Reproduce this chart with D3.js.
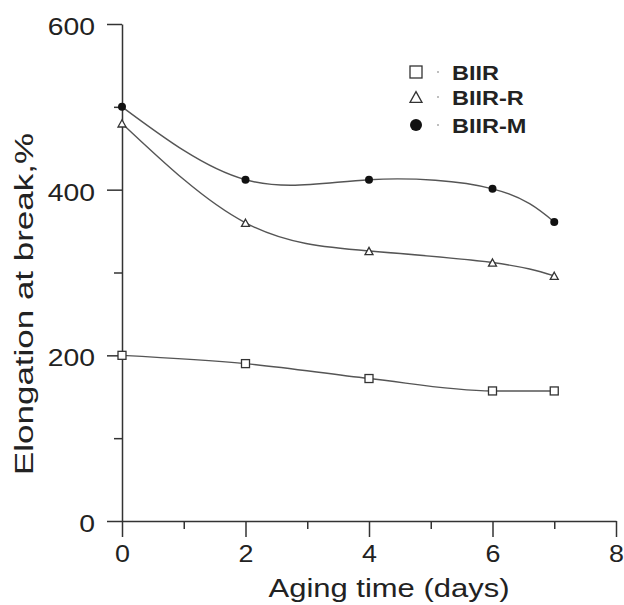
<!DOCTYPE html>
<html>
<head>
<meta charset="utf-8">
<script src="https://cdn.jsdelivr.net/npm/d3@7"></script>
<style>
  body { margin: 0; background: #fff; }
  text { font-family: "Liberation Sans", Arial, sans-serif; fill: #222; }
  .domain, .tick line { stroke: #333; stroke-width: 1.5; }
</style>
</head>
<body>
<div id="chart"></div>
<script>
// values
var days = [0, 2, 4, 6, 7];
var biir  = [200, 190, 172, 157, 157];
var biirR = [480, 360, 326, 312, 296];
var biirM = [500, 412, 412, 401, 361];
var seriesNames = ["BIIR", "BIIR-R", "BIIR-M"];
var xTicks = [0, 2, 4, 6, 8], xMinor = [1, 3, 5, 7];
var yTicks = [0, 200, 400, 600], yMinor = [100, 300, 500];

var width = 624, height = 605;
var svg = d3.select("#chart").append("svg").attr("width", width).attr("height", height);

var x = d3.scaleLinear().domain([0, 8]).range([122, 616]);
var y = d3.scaleLinear().domain([0, 600]).range([521, 24]);

// y axis
var yAxis = svg.append("g").attr("transform", "translate(" + x(0) + ",0)")
  .call(d3.axisLeft(y).tickValues(yTicks).tickSize(15).tickSizeOuter(0).tickFormat(d3.format("d")));
yAxis.selectAll("text").attr("x", 0).attr("dy", "0.44em")
  .attr("transform", "translate(-27,0) scale(1.18,1)")
  .style("font-size", "24px");
svg.append("g").attr("transform", "translate(" + x(0) + ",0)")
  .call(d3.axisLeft(y).tickValues(yMinor).tickSize(8).tickFormat(""))
  .select(".domain").remove();

// x axis
var xAxis = svg.append("g").attr("transform", "translate(0," + y(0) + ")")
  .call(d3.axisBottom(x).tickValues(xTicks).tickSize(16).tickSizeOuter(0));
xAxis.selectAll("text").attr("y", 0).attr("dy", 0)
  .attr("transform", "translate(0,41) scale(1.12,1)")
  .style("font-size", "24px");
svg.append("g").attr("transform", "translate(0," + y(0) + ")")
  .call(d3.axisBottom(x).tickValues(xMinor).tickSize(8).tickFormat(""))
  .select(".domain").remove();

// axis titles
svg.append("text").attr("x", 389).attr("y", 597).attr("text-anchor", "middle")
  .style("font-size", "25px").attr("textLength", 241).attr("lengthAdjust", "spacingAndGlyphs")
  .text("Aging time (days)");
svg.append("text").attr("transform", "translate(33,304) rotate(-90)").attr("text-anchor", "middle")
  .style("font-size", "25px").attr("textLength", 342).attr("lengthAdjust", "spacingAndGlyphs")
  .text("Elongation at break,%");

// curves
var series = [biir, biirR, biirM];
var curves = [d3.curveMonotoneX, d3.curveNatural, d3.curveNatural];

series.forEach(function(vals, i) {
  var pts = days.map(function(d, j) { return [d, vals[j]]; });
  var line = d3.line().x(function(d) { return x(d[0]); }).y(function(d) { return y(d[1]); })
    .curve(curves[i]);
  svg.append("path").datum(pts).attr("d", line)
    .attr("fill", "none").attr("stroke", "#555").attr("stroke-width", 1.4);
  pts.forEach(function(p) { marker(svg, i, x(p[0]), y(p[1]), 8); });
});

function marker(g, i, cx, cy, s) {
  if (i === 0) {
    g.append("rect").attr("x", cx - s / 2).attr("y", cy - s / 2).attr("width", s).attr("height", s)
      .attr("fill", "#fff").attr("stroke", "#333").attr("stroke-width", 1.3);
  } else if (i === 1) {
    var h = s * 0.9;
    g.append("path").attr("d", "M" + cx + "," + (cy - h / 2) + "L" + (cx + s / 2) + "," + (cy + h / 2) +
      "L" + (cx - s / 2) + "," + (cy + h / 2) + "Z")
      .attr("fill", "#fff").attr("stroke", "#333").attr("stroke-width", 1.3);
  } else {
    g.append("circle").attr("cx", cx).attr("cy", cy).attr("r", s / 2).attr("fill", "#111");
  }
}

// legend
var legY = [72, 97, 125];
seriesNames.forEach(function(name, i) {
  marker(svg, i, 416, legY[i], 12);
  svg.append("circle").attr("cx", 438).attr("cy", legY[i]).attr("r", 1).attr("fill", "#aaa");
  svg.append("text").attr("transform", "translate(452," + (legY[i] + 8) + ") scale(1.12,1)")
    .style("font-size", "21px").style("font-weight", "bold").text(name);
});
</script>
</body>
</html>
